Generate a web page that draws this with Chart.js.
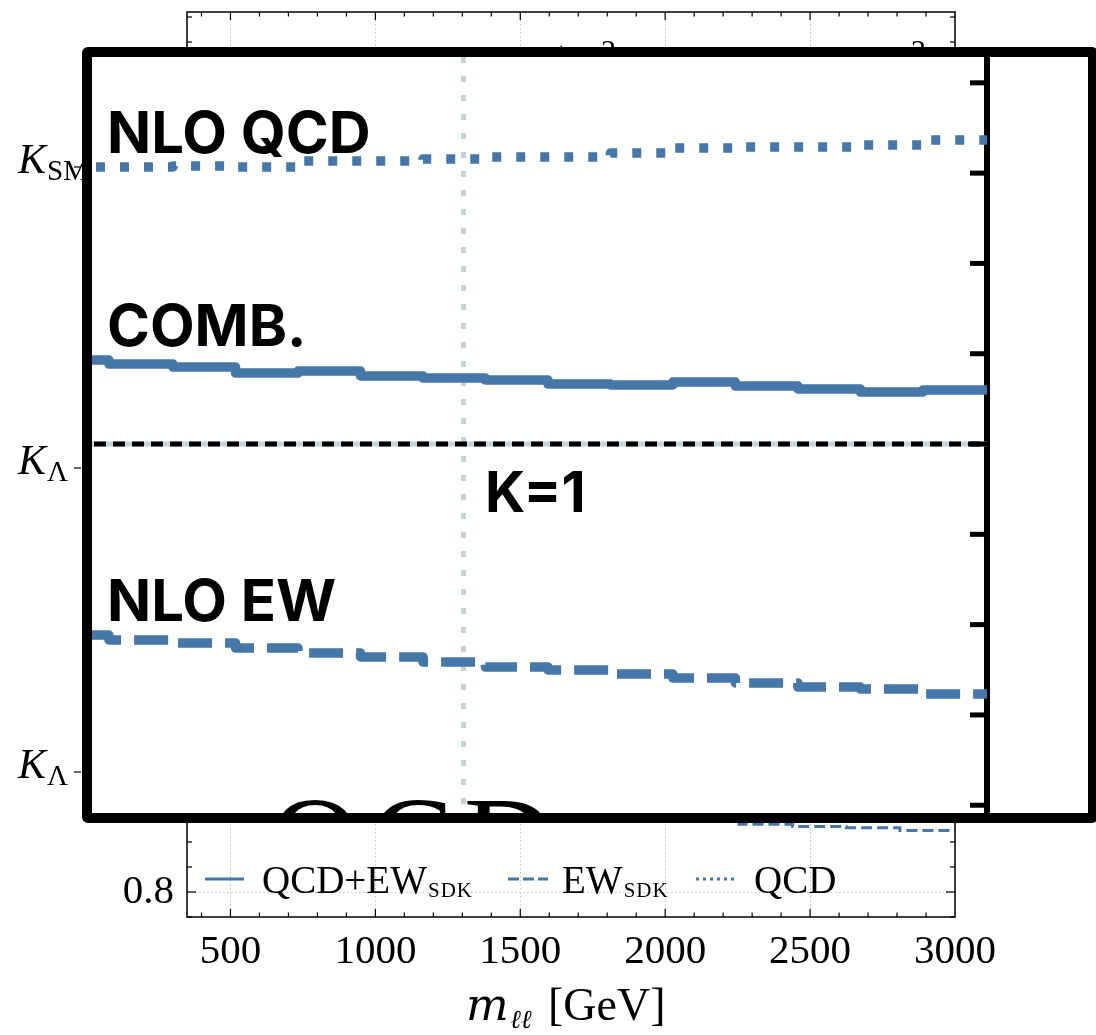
<!DOCTYPE html>
<html>
<head>
<meta charset="utf-8">
<script src="https://cdn.jsdelivr.net/npm/chart.js@4.4.1/dist/chart.umd.min.js"></script>
<style>
  html, body { margin: 0; padding: 0; background: #fff; overflow: hidden; }
  #main { position: absolute; left: 0; top: 0; width: 1096px; height: 1035px; }
  #zoom_box { position: absolute; left: 82px; top: 47px; width: 996px; height: 756px;
              border: 10px solid #000; border-radius: 6px; background: #fff; }
  #zoom_wrap { position: absolute; left: 0; top: 0; width: 996px; height: 756px; }
</style>
</head>
<body>
<div id="main"><canvas id="main_chart"></canvas></div>
<div id="zoom_box"><div id="zoom_wrap"><canvas id="zoom_chart"></canvas></div></div>
<script>
// m_ll bins [GeV]
const bin_edges = [350, 400, 590, 775, 960, 1145, 1330, 1515, 1700, 1885, 2070, 2255, 2440, 2625, 2810, 3000];

// K factors per bin
const k_comb = [1.0465, 1.0443, 1.0426, 1.0393, 1.0404, 1.0377, 1.0365, 1.0354, 1.0332, 1.0327, 1.0343, 1.0321, 1.0305, 1.0288, 1.0299];
const k_ew   = [0.8942, 0.8915, 0.8898, 0.8870, 0.8843, 0.8821, 0.8793, 0.8765, 0.8749, 0.8726, 0.8704, 0.8677, 0.8654, 0.8643, 0.8616];
const k_qcd  = [1.1534, 1.1534, 1.1539, 1.1534, 1.1567, 1.1567, 1.1578, 1.1589, 1.1589, 1.1611, 1.1639, 1.1645, 1.1645, 1.1656, 1.1683];

// axes
const x_ticks = [500, 1000, 1500, 2000, 2500, 3000];
const y_ticks = [0.8, 0.9, 1.0, 1.1, 1.2, 1.3, 1.4, 1.5, 1.6];
const zoom_y_ticks = [0.8, 0.85, 0.9, 0.95, 1.0, 1.05, 1.1, 1.15, 1.2];
const k_axis_vals = [1.525, 1.224, 0.92];
const k_axis_subs = ['SM', 'Λ', 'Λ'];

// legend + labels
const legend_names = ['QCD+EW', 'EW', 'QCD'];
const legend_subs = ['SDK', 'SDK', ''];
const zoom_labels = ['NLO QCD', 'COMB.', 'NLO EW'];
const ref_mass = 1450;

const blue = '#4577a9';
const serif = '"Liberation Serif", "DejaVu Serif", serif';
const sans = 'Inter, "Noto Sans", sans-serif';

Chart.defaults.color = '#000';

// first value of a bin holds until the next edge
function steps(vals) {
  let pts = vals.map((v, i) => ({ x: bin_edges[i], y: v }));
  pts.push({ x: bin_edges[bin_edges.length - 1], y: vals[vals.length - 1] });
  return pts;
}

function seg(ctx, x1, y1, x2, y2) {
  ctx.beginPath();
  ctx.moveTo(x1, y1);
  ctx.lineTo(x2, y2);
  ctx.stroke();
}

function no_edge_pad(s) {
  s.paddingTop = 0;
  s.paddingBottom = 0;
  s.paddingLeft = 0;
  s.paddingRight = 0;
}

// ---------- main (background) chart ----------
const main_frame = {
  id: 'main_frame',
  beforeDatasetsDraw(chart) {
    const { ctx, chartArea: a, scales: { x, y } } = chart;
    ctx.save();
    ctx.strokeStyle = '#b5c9d1';
    ctx.lineWidth = 1;
    ctx.setLineDash([1.5, 2.5]);
    x_ticks.forEach(v => {
      const px = Math.round(x.getPixelForValue(v)) + 0.5;
      seg(ctx, px, a.top, px, a.bottom);
    });
    y_ticks.forEach(v => {
      const py = Math.round(y.getPixelForValue(v)) + 0.5;
      seg(ctx, a.left, py, a.right, py);
    });
    ctx.restore();
  },
  afterDatasetsDraw(chart) {
    const { ctx, chartArea: a, scales: { x, y } } = chart;
    ctx.save();
    ctx.strokeStyle = '#000';
    ctx.lineWidth = 1.5;
    ctx.strokeRect(a.left, a.top, a.right - a.left, a.bottom - a.top);

    // inward ticks
    ctx.lineWidth = 1.2;
    for (let v = 400; v < 3000; v += 100) {
      const major = x_ticks.includes(v);
      const len = major ? 8 : 4.5;
      const px = x.getPixelForValue(v);
      seg(ctx, px, a.bottom, px, a.bottom - len);
      seg(ctx, px, a.top, px, a.top + len);
    }
    for (let i = 31; i <= 67; i++) {
      const v = i * 0.025;
      const major = i % 4 === 0;
      const len = major ? 9 : 5;
      const py = y.getPixelForValue(v);
      seg(ctx, a.left, py, a.left + len, py);
      seg(ctx, a.right, py, a.right - len, py);
    }

    // K labels on the far left
    ctx.fillStyle = '#000';
    ctx.textBaseline = 'alphabetic';
    ctx.textAlign = 'left';
    k_axis_vals.forEach((v, i) => {
      const py = y.getPixelForValue(v);
      ctx.font = 'italic 42px ' + serif;
      ctx.fillText('K', 18, py + 6);
      const w = ctx.measureText('K').width;
      ctx.font = '29px ' + serif;
      ctx.fillText(k_axis_subs[i], 18 + w + 1, py + 13);
      seg(ctx, 74, py, 81, py);
    });

    // partly hidden formula fragments near the top
    ctx.font = '30px ' + serif;
    ctx.fillText('+', 553, 62);
    ctx.fillText('2', 601, 60);
    ctx.fillText('2', 911, 60);

    // legend
    const ly = 879;
    const samples = [
      { x1: 205, x2: 244, dash: [] },
      { x1: 508, x2: 548, dash: [11, 4] },
      { x1: 696, x2: 735, dash: [3, 4] }
    ];
    const text_x = [262, 562, 754];
    ctx.strokeStyle = blue;
    ctx.lineWidth = 3;
    samples.forEach((s, i) => {
      ctx.setLineDash(s.dash);
      seg(ctx, s.x1, ly, s.x2, ly);
      ctx.font = '39px ' + serif;
      ctx.fillText(legend_names[i], text_x[i], 893);
      const w = ctx.measureText(legend_names[i]).width;
      if (legend_subs[i]) {
        ctx.font = '21px ' + serif;
        if ('letterSpacing' in ctx) ctx.letterSpacing = '1px';
        ctx.fillText(legend_subs[i], text_x[i] + w + 1, 897);
        if ('letterSpacing' in ctx) ctx.letterSpacing = '0px';
      }
    });
    ctx.setLineDash([]);

    // axis title
    ctx.font = 'italic 45px "DejaVu Serif", serif';
    ctx.fillText('m', 466, 1020);
    ctx.font = 'italic 26px "DejaVu Serif", serif';
    ctx.fillText('ℓℓ', 510, 1028);
    ctx.font = '46px ' + serif;
    ctx.fillText('[GeV]', 548, 1020);
    ctx.restore();
  }
};

new Chart(document.getElementById('main_chart'), {
  type: 'line',
  data: {
    datasets: [
      { data: steps(k_comb), borderColor: blue, borderWidth: 3, stepped: 'before', pointRadius: 0 },
      { data: steps(k_ew), borderColor: blue, borderWidth: 3, stepped: 'before', pointRadius: 0, borderDash: [11, 5] },
      { data: steps(k_qcd), borderColor: blue, borderWidth: 3, stepped: 'before', pointRadius: 0, borderDash: [3, 5] }
    ]
  },
  options: {
    responsive: true,
    maintainAspectRatio: false,
    animation: false,
    layout: { padding: { left: 0, right: 141, top: 12, bottom: 0 } },
    plugins: { legend: { display: false }, tooltip: { enabled: false } },
    scales: {
      x: {
        type: 'linear', min: 350, max: 3000,
        afterBuildTicks: s => { s.ticks = x_ticks.map(v => ({ value: v })); },
        afterFit: s => { s.height = 118; no_edge_pad(s); },
        grid: { display: false },
        border: { display: false },
        ticks: { font: { family: serif, size: 41 }, padding: 3, maxRotation: 0, callback: v => String(v) }
      },
      y: {
        type: 'linear', min: 0.775, max: 1.68,
        afterBuildTicks: s => { s.ticks = y_ticks.map(v => ({ value: v })); },
        afterFit: s => { s.width = 187; no_edge_pad(s); },
        grid: { display: false },
        border: { display: false },
        ticks: { font: { family: serif, size: 41 }, padding: 5, callback: v => v.toFixed(1) }
      }
    }
  },
  plugins: [main_frame]
});

// ---------- zoomed panel ----------
const zoom_frame = {
  id: 'zoom_frame',
  beforeDatasetsDraw(chart) {
    const { ctx, chartArea: a, scales: { x, y } } = chart;
    ctx.save();
    ctx.strokeStyle = '#c6d3d8';
    ctx.lineWidth = 5;
    ctx.setLineDash([6, 13]);
    const px = x.getPixelForValue(ref_mass);
    seg(ctx, px, a.top, px, a.bottom);
    ctx.setLineDash([]);
    const p1 = y.getPixelForValue(1);
    seg(ctx, a.left, p1, a.right, p1);
    ctx.restore();
  },
  afterDatasetsDraw(chart) {
    const { ctx, chartArea: a, scales: { x, y } } = chart;
    ctx.save();
    // K = 1 reference
    const p1 = y.getPixelForValue(1);
    ctx.strokeStyle = '#000';
    ctx.lineWidth = 5;
    ctx.setLineDash([12, 7]);
    seg(ctx, a.left + 2, p1, a.right, p1);
    ctx.setLineDash([]);

    // inward ticks on the right spine
    zoom_y_ticks.forEach(v => {
      const py = y.getPixelForValue(v);
      seg(ctx, a.right - 17, py, a.right, py);
    });

    // curve names, placed just above each curve's first bin
    ctx.fillStyle = '#000';
    ctx.font = '700 58px ' + sans;
    ctx.textAlign = 'left';
    ctx.textBaseline = 'alphabetic';
    const firsts = [k_qcd[0], k_comb[0], k_ew[0]];
    zoom_labels.forEach((t, i) => {
      ctx.fillText(t, 15, y.getPixelForValue(firsts[i]) - 14);
    });
    ctx.font = '700 56px ' + sans;
    ctx.fillText('K=1', 393, p1 + 68);

    // large caption sitting below the visible window
    ctx.font = '125px ' + serif;
    if ('letterSpacing' in ctx) ctx.letterSpacing = '10px';
    ctx.fillText('QCD', 178, a.bottom + 70);
    ctx.restore();
  }
};

new Chart(document.getElementById('zoom_chart'), {
  type: 'line',
  data: {
    datasets: [
      { data: steps(k_comb), borderColor: blue, borderWidth: 9.5, stepped: 'before', pointRadius: 0,
        borderJoinStyle: 'round' },
      { data: steps(k_ew), borderColor: blue, borderWidth: 9.5, stepped: 'before', pointRadius: 0,
        borderJoinStyle: 'round', borderDash: [34, 13] },
      { data: steps(k_qcd), borderColor: blue, borderWidth: 9.5, stepped: 'before', pointRadius: 0,
        borderJoinStyle: 'round', borderDash: [9, 15], borderDashOffset: -4 }
    ]
  },
  options: {
    responsive: true,
    maintainAspectRatio: false,
    animation: false,
    layout: { padding: { left: 0, right: 101, top: 0, bottom: 0 } },
    plugins: { legend: { display: false }, tooltip: { enabled: false } },
    scales: {
      x: { type: 'linear', min: 350, max: 3000, display: false },
      y: {
        type: 'linear', position: 'right', min: 0.7957, max: 1.2143,
        afterFit: s => { s.width = 0; no_edge_pad(s); },
        ticks: { display: false },
        grid: { display: false },
        border: { display: true, width: 6, color: '#000' }
      }
    }
  },
  plugins: [zoom_frame]
});
</script>
</body>
</html>
